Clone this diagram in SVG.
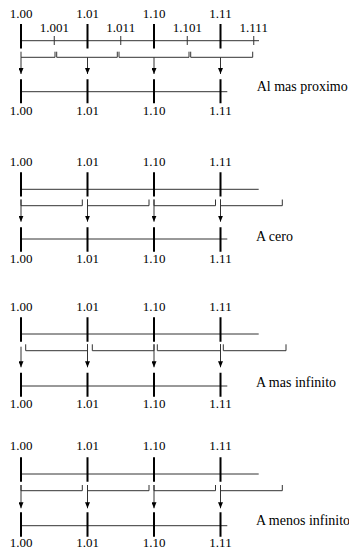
<svg xmlns="http://www.w3.org/2000/svg" width="349" height="549" viewBox="0 0 349 549">
<defs>
<style>
text{font-family:'Liberation Serif','Times New Roman','DejaVu Serif',serif;fill:#000}
.lbl{font-size:13px;text-anchor:middle}
.cap{font-size:14px}
.tk{stroke:#000;stroke-width:2;fill:none}
.ln{stroke:#333;stroke-width:1;fill:none}
.ar{stroke:#333;stroke-width:1;fill:none;marker-end:url(#ah)}
</style>
<marker id="ah" viewBox="0 0 6 5" refX="6" refY="2.5" markerWidth="6" markerHeight="5" markerUnits="userSpaceOnUse" orient="auto"><path d="M0,0 L6,2.5 L0,5 z" fill="#000"/></marker>
</defs>
<rect width="349" height="549" fill="#fff"/>

<g id="panel-nearest">
<text class="lbl" x="21" y="17.5">1.00</text>
<text class="lbl" x="87.5" y="17.5">1.01</text>
<text class="lbl" x="154" y="17.5">1.10</text>
<text class="lbl" x="220.5" y="17.5">1.11</text>
<text class="lbl" x="54.25" y="32.3">1.001</text>
<text class="lbl" x="120.75" y="32.3">1.011</text>
<text class="lbl" x="187.25" y="32.3">1.101</text>
<text class="lbl" x="253.75" y="32.3">1.111</text>
<path class="ln" d="M21,40.7 H259"/>
<path class="tk" d="M21,24 V48.5 M87.5,24 V48.5 M154,24 V48.5 M220.5,24 V48.5"/>
<path class="ln" d="M54.25,36 V45 M120.75,36 V45 M187.25,36 V45 M253.75,36 V45"/>
<path class="ln" d="M21,51.7 V57.3 H55 V51.7 M56.7,51.7 V57.3 H117.3 V51.7 M119,51.7 V57.3 H189 V51.7 M190.7,51.7 V57.3 H252.7 V51.7"/>
<path class="ln" d="M21,91.7 H227.3"/>
<path class="tk" d="M21,79.3 V103.3 M87.5,79.3 V103.3 M154,79.3 V103.3 M220.5,79.3 V103.3"/>
<text class="lbl" x="21" y="115">1.00</text>
<text class="lbl" x="87.5" y="115">1.01</text>
<text class="lbl" x="154" y="115">1.10</text>
<text class="lbl" x="220.5" y="115">1.11</text>
<text class="cap" x="256.7" y="91">Al mas proximo</text>
</g>

<g id="panel-cero">
<text class="lbl" x="21" y="166">1.00</text>
<text class="lbl" x="87.5" y="166">1.01</text>
<text class="lbl" x="154" y="166">1.10</text>
<text class="lbl" x="220.5" y="166">1.11</text>
<path class="ln" d="M21,189.3 H258.7"/>
<path class="tk" d="M21,172.3 V196.5 M87.5,172.3 V196.5 M154,172.3 V196.5 M220.5,172.3 V196.5"/>
<path class="ln" d="M21,199.5 V205.7 H82.3 V199.5 M87.5,199.5 V205.7 H149 V199.5 M154,199.5 V205.7 H215.5 V199.5 M220.5,199.5 V205.7 H282.3 V199.5"/>
<path class="ln" d="M21,239 H227.3"/>
<path class="tk" d="M21,227.3 V251.7 M87.5,227.3 V251.7 M154,227.3 V251.7 M220.5,227.3 V251.7"/>
<text class="lbl" x="21" y="262.7">1.00</text>
<text class="lbl" x="87.5" y="262.7">1.01</text>
<text class="lbl" x="154" y="262.7">1.10</text>
<text class="lbl" x="220.5" y="262.7">1.11</text>
<text class="cap" x="256" y="240.7">A cero</text>
</g>

<g id="panel-mas-infinito">
<text class="lbl" x="21" y="310.7">1.00</text>
<text class="lbl" x="87.5" y="310.7">1.01</text>
<text class="lbl" x="154" y="310.7">1.10</text>
<text class="lbl" x="220.5" y="310.7">1.11</text>
<path class="ln" d="M21,334 H258.7"/>
<path class="tk" d="M21,317.3 V341.7 M87.5,317.3 V341.7 M154,317.3 V341.7 M220.5,317.3 V341.7"/>
<path class="ln" d="M25.7,344.3 V350.7 H87.5 V344.3 M92.3,344.3 V350.7 H154 V344.3 M157.3,344.3 V350.7 H220.5 V344.3 M223.3,344.3 V350.7 H286 V344.3"/>
<path class="ln" d="M21,386 H227.3"/>
<path class="tk" d="M21,372.7 V396.7 M87.5,372.7 V396.7 M154,372.7 V396.7 M220.5,372.7 V396.7"/>
<text class="lbl" x="21" y="408.3">1.00</text>
<text class="lbl" x="87.5" y="408.3">1.01</text>
<text class="lbl" x="154" y="408.3">1.10</text>
<text class="lbl" x="220.5" y="408.3">1.11</text>
<text class="cap" x="256" y="387">A mas infinito</text>
</g>

<g id="panel-menos-infinito">
<text class="lbl" x="21" y="450">1.00</text>
<text class="lbl" x="87.5" y="450">1.01</text>
<text class="lbl" x="154" y="450">1.10</text>
<text class="lbl" x="220.5" y="450">1.11</text>
<path class="ln" d="M21,474 H258.7"/>
<path class="tk" d="M21,457.3 V481.7 M87.5,457.3 V481.7 M154,457.3 V481.7 M220.5,457.3 V481.7"/>
<path class="ln" d="M21,485 V490.7 H82.3 V485 M87.5,485 V490.7 H149 V485 M154,485 V490.7 H215.5 V485 M220.5,485 V490.7 H282.3 V485"/>
<path class="ln" d="M21,525.7 H227.3"/>
<path class="tk" d="M21,512.3 V536.7 M87.5,512.3 V536.7 M154,512.3 V536.7 M220.5,512.3 V536.7"/>
<text class="lbl" x="21" y="546.5">1.00</text>
<text class="lbl" x="87.5" y="546.5">1.01</text>
<text class="lbl" x="154" y="546.5">1.10</text>
<text class="lbl" x="220.5" y="546.5">1.11</text>
<text class="cap" x="256" y="525">A menos infinito</text>
</g>

<g id="connectors">
<path class="ar" d="M21,57.3 V74"/>
<path class="ar" d="M87.5,57.3 V74"/>
<path class="ar" d="M154,57.3 V74"/>
<path class="ar" d="M220.5,57.3 V74"/>
<path class="ar" d="M21,199.5 V221.7"/>
<path class="ar" d="M87.5,199.5 V221.7"/>
<path class="ar" d="M154,199.5 V221.7"/>
<path class="ar" d="M220.5,199.5 V221.7"/>
<path class="ar" d="M21,346.7 V367.3"/>
<path class="ar" d="M87.5,344.3 V367.3"/>
<path class="ar" d="M154,344.3 V367.3"/>
<path class="ar" d="M220.5,344.3 V367.3"/>
<path class="ar" d="M21,485 V508.3"/>
<path class="ar" d="M87.5,485 V508.3"/>
<path class="ar" d="M154,485 V508.3"/>
<path class="ar" d="M220.5,485 V508.3"/>
</g>
</svg>
